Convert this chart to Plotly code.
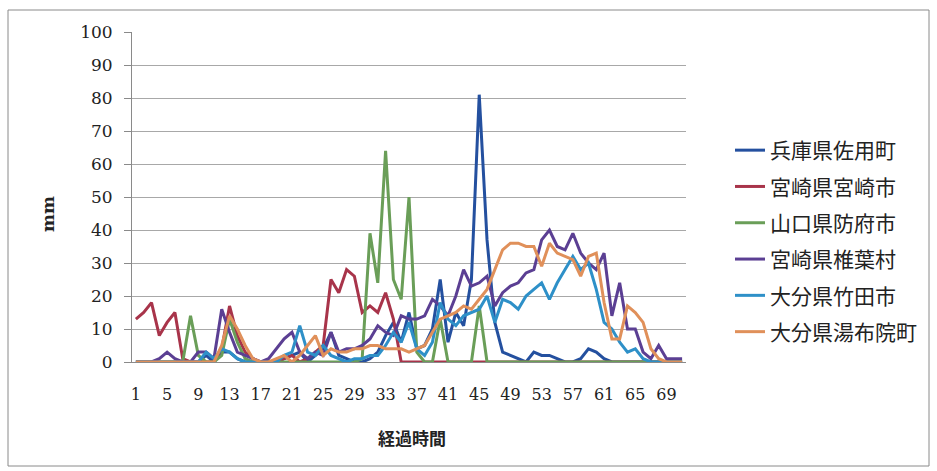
import plotly.graph_objects as go

x_vals = list(range(1, 72))
tick_vals = list(range(1, 70, 4))

names = ["兵庫県佐用町", "宮崎県宮崎市", "山口県防府市", "宮崎県椎葉村", "大分県竹田市", "大分県湯布院町"]
colors = ["#24509F", "#A8344A", "#6A9E58", "#5B3F93", "#2E90C8", "#E0905A"]

sayo = [0,0,0,0,0,0,0,0,0,2, 0,3,3,1,0,0,0,0,0,1, 2,3,0,2,4,9,2,1,0,0,
        1,3,8,12,6,15,4,5,10,25, 6,15,11,25,81,37,12,3,2,1, 0,3,2,2,1,0,0,1,4,3,
        1,0,0,0,0,0,0,0,0,0, 0]
miyazaki = [13,15,18,8,12,15,1,0,0,0, 0,4,17,8,3,1,0,0,0,1, 2,0,1,3,5,25,21,28,26,15,
            17,15,21,13,0,0,0,0,0,0, 0,0,0,0,0,0,0,0,0,0, 0,0,0,0,0,0,0,0,0,0,
            0,0,0,0,0,0,0,0,0,0, 0]
hofu = [0,0,0,0,0,0,0,14,2,0, 0,2,13,6,1,0,0,0,0,0, 0,0,0,0,0,0,0,0,0,1,
        39,24,64,25,19,50,3,0,0,13, 0,0,0,0,17,0,0,0,0,0, 0,0,0,0,0,0,0,0,0,0,
        0,0,0,0,0,0,0,0,0,0, 0]
shiiba = [0,0,0,1,3,1,0,0,3,3, 1,16,9,3,2,1,0,1,4,7, 9,3,1,3,2,9,3,4,4,5,
          7,11,9,8,14,13,13,14,19,17, 14,20,28,23,24,26,17,21,23,24, 27,28,37,40,35,34,39,33,30,28,
          33,14,24,10,10,3,1,5,1,1, 1]
taketa = [0,0,0,0,0,0,0,0,0,3, 1,4,3,1,0,0,0,0,0,2, 3,11,3,2,5,2,1,0,1,1,
          2,2,5,9,6,12,4,2,6,18, 13,11,14,15,16,20,12,19,18,16, 20,22,24,19,24,28,32,28,30,22,
          12,10,6,3,4,1,0,0,0,0, 0]
yufuin = [0,0,0,0,0,0,0,0,0,0, 0,5,14,10,5,1,0,0,1,2, 0,2,5,8,2,4,3,3,4,4,
          5,5,4,4,4,3,4,5,9,13, 14,15,17,16,19,22,28,34,36,36, 35,35,29,36,33,32,31,26,32,33,
          18,7,7,17,15,12,4,1,0,0, 0]

series = [sayo, miyazaki, hofu, shiiba, taketa, yufuin]

fig = go.Figure()
for i, (n, c, s) in enumerate(zip(names, colors, series)):
    fig.add_trace(go.Scatter(x=x_vals, y=s, mode="lines", name=n,
                             line=dict(color=c, width=3), legendgroup=str(i)))

L, R, T, B = 132, 251, 32, 109
pw = 937 - L - R
ph = 471 - T - B

def px(xp):
    return (xp - L) / pw

def py(yp):
    return (471 - B - yp) / ph

fig.update_layout(
    width=937, height=471,
    margin=dict(l=L, r=R, t=T, b=B),
    paper_bgcolor="white", plot_bgcolor="white",
    showlegend=True,
    legend=dict(x=px(730), y=py(130), xanchor="left", yanchor="top",
                font=dict(family="Noto Sans CJK JP", size=21, color="#222"),
                tracegroupgap=6, bgcolor="rgba(0,0,0,0)"),
    xaxis=dict(range=[0.5, 71.5], tickmode="array", tickvals=tick_vals,
               ticktext=[str(v) for v in tick_vals], showgrid=False,
               showline=True, linecolor="#8A8A8A", linewidth=1,
               ticks="", ticklabelstandoff=18, zeroline=False,
               tickfont=dict(family="DejaVu Serif", size=16, color="#222")),
    yaxis=dict(range=[0, 100], tickvals=list(range(0, 101, 10)), showgrid=True,
               gridcolor="#A8A8A8", gridwidth=1, showline=True, linecolor="#8A8A8A",
               ticks="outside", ticklen=7, tickcolor="#8A8A8A", ticklabelstandoff=8,
               zeroline=False,
               tickfont=dict(family="DejaVu Serif", size=17, color="#222")),
    shapes=[dict(type="rect", xref="paper", yref="paper",
                 x0=px(8), x1=px(929), y0=py(466), y1=py(10),
                 line=dict(color="#8A8A8A", width=1), layer="below")],
    annotations=[
        dict(text="<b>mm</b>", xref="paper", yref="paper", x=px(48), y=py(214),
             xanchor="center", yanchor="middle",
             showarrow=False, textangle=-90,
             font=dict(family="DejaVu Serif", size=17, color="#222")),
        dict(text="<b>経過時間</b>", xref="paper", yref="paper", x=px(412), y=py(437),
             xanchor="center", yanchor="middle",
             showarrow=False,
             font=dict(family="Noto Sans CJK JP", size=17, color="#222")),
    ],
)

fig.write_html("out.html")
